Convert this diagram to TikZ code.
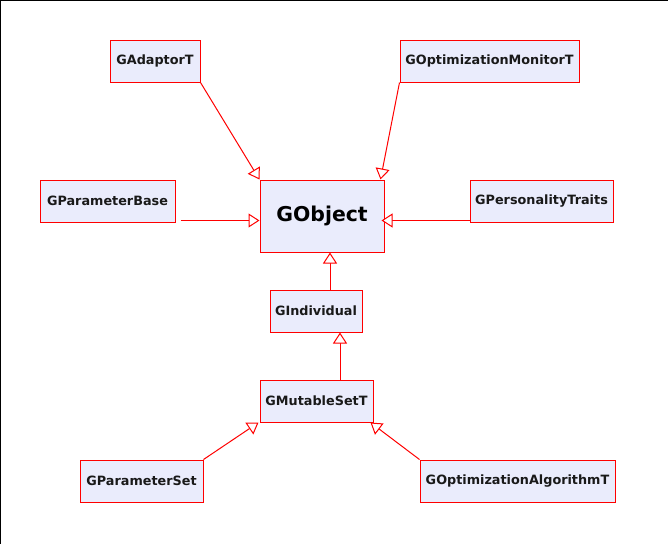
\documentclass[tikz,border=0pt]{standalone}
\usepackage{fontspec}
\setmainfont{DejaVu Sans}
\usetikzlibrary{arrows.meta,calc}
\definecolor{boxfill}{RGB}{234,236,252}
\definecolor{linkred}{RGB}{255,0,0}
\begin{document}
\begin{tikzpicture}[x=1pt,y=-1pt,
  cls/.style={draw=linkred, fill=boxfill, line width=1pt, inner sep=0pt, minimum height=42pt,
    font=\bfseries\fontsize{12.8}{14}\selectfont, text=black!90},
  bigcls/.style={cls, minimum height=72pt, font=\bfseries\fontsize{20.4}{23}\selectfont, text=black},
  inh/.style={draw=linkred, line width=1pt, -{Triangle[open, length=11pt, width=14pt, fill=white]}}]
\useasboundingbox (0,0) rectangle (668,544);
\draw[line width=2pt] (0,544) -- (0,0) -- (668,0);

\node[cls, minimum width=90pt]  (adaptor) at (155,61) {GAdaptorT};
\node[cls, minimum width=179pt] (monitor) at (489.5,61) {GOptimizationMonitorT};
\node[cls, minimum width=135pt] (pbase) at (107.5,201) {GParameterBase};
\node[bigcls, minimum width=124pt] (gobject) at (322,216) {GObject};
\node[cls, minimum width=143pt] (traits) at (541.5,201) {GPersonalityTraits};
\node[cls, minimum width=92pt]  (indiv) at (316,311) {GIndividual};
\node[cls, minimum width=113pt] (mutable) at (316.5,401) {GMutableSetT};
\node[cls, minimum width=123pt] (pset) at (141.5,481) {GParameterSet};
\node[cls, minimum width=195pt] (algo) at (517.5,481) {GOptimizationAlgorithmT};

\draw[inh] (adaptor.south east) -- (gobject.north west);
\draw[inh] (monitor.south west) -- ($(gobject.north east)+(-4,0)$);
\coordinate (pbs) at ($(pbase.south east)+(5,-2)$);
\draw[inh] (pbs) -- (gobject.west |- pbs);
\coordinate (trs) at ($(traits.south west)+(0,-2)$);
\draw[inh] (trs) -- ($(gobject.east |- trs)+(-3,0)$);
\coordinate (ins) at ($(indiv.north)+(14,0)$);
\draw[inh] (ins) -- (gobject.south -| ins);
\coordinate (mus) at ($(mutable.north)+(23.5,0)$);
\draw[inh] (mus) -- (indiv.south -| mus);
\draw[inh] (pset.north east) -- ($(mutable.south west)+(-1,0)$);
\draw[inh] (algo.north west) -- ($(mutable.south east)+(-3,0)$);
\end{tikzpicture}
\end{document}
